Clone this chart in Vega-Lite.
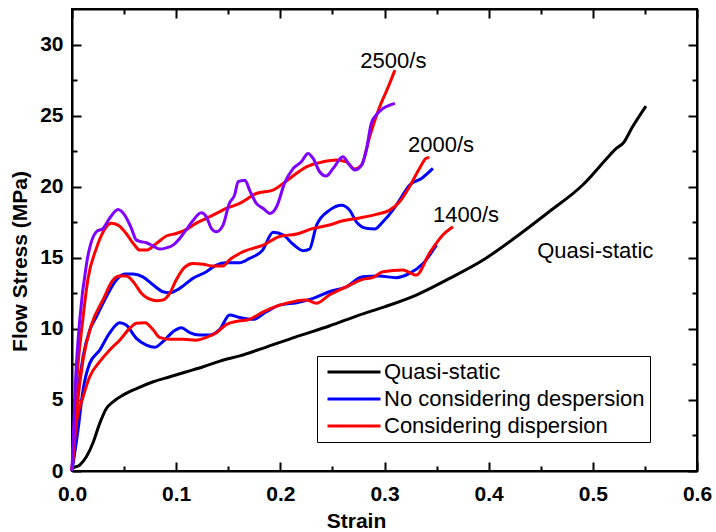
{
  "$schema": "https://vega.github.io/schema/vega-lite/v6.json",
  "width": 625,
  "height": 462,
  "autosize": "none",
  "padding": {"left": 72, "top": 9, "right": 19, "bottom": 61},
  "background": "white",
  "config": {
    "view": {"stroke": "black", "strokeWidth": 2},
    "axis": {
      "grid": false,
      "domainColor": "black",
      "domainWidth": 2,
      "tickColor": "black",
      "tickWidth": 2,
      "labelFont": "Liberation Sans",
      "labelFontSize": 21,
      "labelFontWeight": "bold",
      "labelColor": "black",
      "labelFlush": false,
      "labelOverlap": false,
      "titleFont": "Liberation Sans",
      "titleFontSize": 21,
      "titleFontWeight": "bold",
      "titleColor": "black"
    }
  },
  "datasets": {
    "curves": [
      {"curve":"QS","type":"Quasi-static","strain":0,"stress":0},
      {"curve":"QS","type":"Quasi-static","strain":0.001,"stress":0.19},
      {"curve":"QS","type":"Quasi-static","strain":0.0074,"stress":0.42},
      {"curve":"QS","type":"Quasi-static","strain":0.0138,"stress":1.0},
      {"curve":"QS","type":"Quasi-static","strain":0.02,"stress":1.95},
      {"curve":"QS","type":"Quasi-static","strain":0.0266,"stress":3.35},
      {"curve":"QS","type":"Quasi-static","strain":0.033,"stress":4.4},
      {"curve":"QS","type":"Quasi-static","strain":0.0394,"stress":4.87},
      {"curve":"QS","type":"Quasi-static","strain":0.049,"stress":5.34},
      {"curve":"QS","type":"Quasi-static","strain":0.062,"stress":5.8},
      {"curve":"QS","type":"Quasi-static","strain":0.078,"stress":6.28},
      {"curve":"QS","type":"Quasi-static","strain":0.094,"stress":6.63},
      {"curve":"QS","type":"Quasi-static","strain":0.11,"stress":6.98},
      {"curve":"QS","type":"Quasi-static","strain":0.126,"stress":7.33},
      {"curve":"QS","type":"Quasi-static","strain":0.142,"stress":7.73},
      {"curve":"QS","type":"Quasi-static","strain":0.161,"stress":8.1},
      {"curve":"QS","type":"Quasi-static","strain":0.183,"stress":8.63},
      {"curve":"QS","type":"Quasi-static","strain":0.215,"stress":9.44},
      {"curve":"QS","type":"Quasi-static","strain":0.247,"stress":10.2},
      {"curve":"QS","type":"Quasi-static","strain":0.275,"stress":10.95},
      {"curve":"QS","type":"Quasi-static","strain":0.3,"stress":11.55},
      {"curve":"QS","type":"Quasi-static","strain":0.3305,"stress":12.38},
      {"curve":"QS","type":"Quasi-static","strain":0.3625,"stress":13.55},
      {"curve":"QS","type":"Quasi-static","strain":0.3947,"stress":14.84},
      {"curve":"QS","type":"Quasi-static","strain":0.4265,"stress":16.48},
      {"curve":"QS","type":"Quasi-static","strain":0.458,"stress":18.24},
      {"curve":"QS","type":"Quasi-static","strain":0.49,"stress":20.1},
      {"curve":"QS","type":"Quasi-static","strain":0.516,"stress":22.2},
      {"curve":"QS","type":"Quasi-static","strain":0.5225,"stress":22.7},
      {"curve":"QS","type":"Quasi-static","strain":0.529,"stress":23.05},
      {"curve":"QS","type":"Quasi-static","strain":0.538,"stress":24.2},
      {"curve":"QS","type":"Quasi-static","strain":0.551,"stress":25.67},

      {"curve":"1400 no","type":"No considering despersion","strain":0,"stress":0},
      {"curve":"1400 no","type":"No considering despersion","strain":0.0058,"stress":2.9},
      {"curve":"1400 no","type":"No considering despersion","strain":0.0106,"stress":5.7},
      {"curve":"1400 no","type":"No considering despersion","strain":0.017,"stress":7.57},
      {"curve":"1400 no","type":"No considering despersion","strain":0.0266,"stress":8.5},
      {"curve":"1400 no","type":"No considering despersion","strain":0.036,"stress":9.7},
      {"curve":"1400 no","type":"No considering despersion","strain":0.0458,"stress":10.43},
      {"curve":"1400 no","type":"No considering despersion","strain":0.052,"stress":10.27},
      {"curve":"1400 no","type":"No considering despersion","strain":0.0618,"stress":9.33},
      {"curve":"1400 no","type":"No considering despersion","strain":0.0714,"stress":8.86},
      {"curve":"1400 no","type":"No considering despersion","strain":0.0794,"stress":8.7},
      {"curve":"1400 no","type":"No considering despersion","strain":0.0873,"stress":9.1},
      {"curve":"1400 no","type":"No considering despersion","strain":0.097,"stress":9.8},
      {"curve":"1400 no","type":"No considering despersion","strain":0.105,"stress":10.08},
      {"curve":"1400 no","type":"No considering despersion","strain":0.113,"stress":9.73},
      {"curve":"1400 no","type":"No considering despersion","strain":0.1226,"stress":9.56},
      {"curve":"1400 no","type":"No considering despersion","strain":0.132,"stress":9.56},
      {"curve":"1400 no","type":"No considering despersion","strain":0.1418,"stress":9.96},
      {"curve":"1400 no","type":"No considering despersion","strain":0.1513,"stress":10.97},
      {"curve":"1400 no","type":"No considering despersion","strain":0.161,"stress":10.8},
      {"curve":"1400 no","type":"No considering despersion","strain":0.174,"stress":10.67},
      {"curve":"1400 no","type":"No considering despersion","strain":0.1865,"stress":11.2},
      {"curve":"1400 no","type":"No considering despersion","strain":0.1993,"stress":11.67},
      {"curve":"1400 no","type":"No considering despersion","strain":0.2157,"stress":11.84},
      {"curve":"1400 no","type":"No considering despersion","strain":0.2315,"stress":12.14},
      {"curve":"1400 no","type":"No considering despersion","strain":0.247,"stress":12.61},
      {"curve":"1400 no","type":"No considering despersion","strain":0.2634,"stress":12.96},
      {"curve":"1400 no","type":"No considering despersion","strain":0.279,"stress":13.66},
      {"curve":"1400 no","type":"No considering despersion","strain":0.295,"stress":13.71},
      {"curve":"1400 no","type":"No considering despersion","strain":0.311,"stress":13.6},
      {"curve":"1400 no","type":"No considering despersion","strain":0.324,"stress":13.9},
      {"curve":"1400 no","type":"No considering despersion","strain":0.337,"stress":14.6},
      {"curve":"1400 no","type":"No considering despersion","strain":0.35,"stress":15.9},

      {"curve":"1400 c","type":"Considering dispersion","strain":0,"stress":0},
      {"curve":"1400 c","type":"Considering dispersion","strain":0.0042,"stress":3.35},
      {"curve":"1400 c","type":"Considering dispersion","strain":0.0106,"stress":5.2},
      {"curve":"1400 c","type":"Considering dispersion","strain":0.017,"stress":6.63},
      {"curve":"1400 c","type":"Considering dispersion","strain":0.0266,"stress":7.69},
      {"curve":"1400 c","type":"Considering dispersion","strain":0.036,"stress":8.5},
      {"curve":"1400 c","type":"Considering dispersion","strain":0.0458,"stress":9.2},
      {"curve":"1400 c","type":"Considering dispersion","strain":0.0554,"stress":10.03},
      {"curve":"1400 c","type":"Considering dispersion","strain":0.0618,"stress":10.39},
      {"curve":"1400 c","type":"Considering dispersion","strain":0.07,"stress":10.43},
      {"curve":"1400 c","type":"Considering dispersion","strain":0.078,"stress":9.92},
      {"curve":"1400 c","type":"Considering dispersion","strain":0.084,"stress":9.4},
      {"curve":"1400 c","type":"Considering dispersion","strain":0.094,"stress":9.26},
      {"curve":"1400 c","type":"Considering dispersion","strain":0.1068,"stress":9.26},
      {"curve":"1400 c","type":"Considering dispersion","strain":0.119,"stress":9.2},
      {"curve":"1400 c","type":"Considering dispersion","strain":0.129,"stress":9.4},
      {"curve":"1400 c","type":"Considering dispersion","strain":0.1386,"stress":9.73},
      {"curve":"1400 c","type":"Considering dispersion","strain":0.148,"stress":10.3},
      {"curve":"1400 c","type":"Considering dispersion","strain":0.16,"stress":10.55},
      {"curve":"1400 c","type":"Considering dispersion","strain":0.1705,"stress":10.67},
      {"curve":"1400 c","type":"Considering dispersion","strain":0.1836,"stress":11.2},
      {"curve":"1400 c","type":"Considering dispersion","strain":0.1993,"stress":11.67},
      {"curve":"1400 c","type":"Considering dispersion","strain":0.215,"stress":11.95},
      {"curve":"1400 c","type":"Considering dispersion","strain":0.225,"stress":12.03},
      {"curve":"1400 c","type":"Considering dispersion","strain":0.2345,"stress":11.8},
      {"curve":"1400 c","type":"Considering dispersion","strain":0.247,"stress":12.38},
      {"curve":"1400 c","type":"Considering dispersion","strain":0.2634,"stress":12.96},
      {"curve":"1400 c","type":"Considering dispersion","strain":0.279,"stress":13.48},
      {"curve":"1400 c","type":"Considering dispersion","strain":0.289,"stress":13.62},
      {"curve":"1400 c","type":"Considering dispersion","strain":0.2985,"stress":14.02},
      {"curve":"1400 c","type":"Considering dispersion","strain":0.3177,"stress":14.14},
      {"curve":"1400 c","type":"Considering dispersion","strain":0.3257,"stress":13.9},
      {"curve":"1400 c","type":"Considering dispersion","strain":0.3305,"stress":13.78},
      {"curve":"1400 c","type":"Considering dispersion","strain":0.343,"stress":15.3},
      {"curve":"1400 c","type":"Considering dispersion","strain":0.356,"stress":16.6},
      {"curve":"1400 c","type":"Considering dispersion","strain":0.3657,"stress":17.18},

      {"curve":"2000 no","type":"No considering despersion","strain":0,"stress":0},
      {"curve":"2000 no","type":"No considering despersion","strain":0.005,"stress":5.0},
      {"curve":"2000 no","type":"No considering despersion","strain":0.0106,"stress":8.04},
      {"curve":"2000 no","type":"No considering despersion","strain":0.017,"stress":9.9},
      {"curve":"2000 no","type":"No considering despersion","strain":0.0234,"stress":10.85},
      {"curve":"2000 no","type":"No considering despersion","strain":0.033,"stress":12.26},
      {"curve":"2000 no","type":"No considering despersion","strain":0.0426,"stress":13.43},
      {"curve":"2000 no","type":"No considering despersion","strain":0.0506,"stress":13.85},
      {"curve":"2000 no","type":"No considering despersion","strain":0.0586,"stress":13.85},
      {"curve":"2000 no","type":"No considering despersion","strain":0.068,"stress":13.66},
      {"curve":"2000 no","type":"No considering despersion","strain":0.078,"stress":13.08},
      {"curve":"2000 no","type":"No considering despersion","strain":0.0873,"stress":12.61},
      {"curve":"2000 no","type":"No considering despersion","strain":0.0938,"stress":12.54},
      {"curve":"2000 no","type":"No considering despersion","strain":0.1034,"stress":12.85},
      {"curve":"2000 no","type":"No considering despersion","strain":0.116,"stress":13.55},
      {"curve":"2000 no","type":"No considering despersion","strain":0.129,"stress":14.02},
      {"curve":"2000 no","type":"No considering despersion","strain":0.1386,"stress":14.49},
      {"curve":"2000 no","type":"No considering despersion","strain":0.148,"stress":14.65},
      {"curve":"2000 no","type":"No considering despersion","strain":0.161,"stress":14.65},
      {"curve":"2000 no","type":"No considering despersion","strain":0.1705,"stress":14.96},
      {"curve":"2000 no","type":"No considering despersion","strain":0.183,"stress":15.54},
      {"curve":"2000 no","type":"No considering despersion","strain":0.193,"stress":16.8},
      {"curve":"2000 no","type":"No considering despersion","strain":0.203,"stress":16.6},
      {"curve":"2000 no","type":"No considering despersion","strain":0.2123,"stress":15.95},
      {"curve":"2000 no","type":"No considering despersion","strain":0.222,"stress":15.5},
      {"curve":"2000 no","type":"No considering despersion","strain":0.228,"stress":15.6},
      {"curve":"2000 no","type":"No considering despersion","strain":0.2348,"stress":17.3},
      {"curve":"2000 no","type":"No considering despersion","strain":0.2473,"stress":18.35},
      {"curve":"2000 no","type":"No considering despersion","strain":0.2587,"stress":18.7},
      {"curve":"2000 no","type":"No considering despersion","strain":0.2665,"stress":18.35},
      {"curve":"2000 no","type":"No considering despersion","strain":0.273,"stress":17.53},
      {"curve":"2000 no","type":"No considering despersion","strain":0.2825,"stress":17.07},
      {"curve":"2000 no","type":"No considering despersion","strain":0.2905,"stress":17.02},
      {"curve":"2000 no","type":"No considering despersion","strain":0.2985,"stress":17.53},
      {"curve":"2000 no","type":"No considering despersion","strain":0.308,"stress":18.35},
      {"curve":"2000 no","type":"No considering despersion","strain":0.3145,"stress":19.06},
      {"curve":"2000 no","type":"No considering despersion","strain":0.324,"stress":20.1},
      {"curve":"2000 no","type":"No considering despersion","strain":0.3355,"stress":20.58},
      {"curve":"2000 no","type":"No considering despersion","strain":0.3465,"stress":21.29},

      {"curve":"2000 c","type":"Considering dispersion","strain":0,"stress":0},
      {"curve":"2000 c","type":"Considering dispersion","strain":0.005,"stress":4.6},
      {"curve":"2000 c","type":"Considering dispersion","strain":0.0106,"stress":7.8},
      {"curve":"2000 c","type":"Considering dispersion","strain":0.0186,"stress":10.27},
      {"curve":"2000 c","type":"Considering dispersion","strain":0.0297,"stress":12.03},
      {"curve":"2000 c","type":"Considering dispersion","strain":0.0394,"stress":13.43},
      {"curve":"2000 c","type":"Considering dispersion","strain":0.0458,"stress":13.71},
      {"curve":"2000 c","type":"Considering dispersion","strain":0.052,"stress":13.71},
      {"curve":"2000 c","type":"Considering dispersion","strain":0.06,"stress":13.2},
      {"curve":"2000 c","type":"Considering dispersion","strain":0.0666,"stress":12.5},
      {"curve":"2000 c","type":"Considering dispersion","strain":0.073,"stress":12.14},
      {"curve":"2000 c","type":"Considering dispersion","strain":0.081,"stress":11.98},
      {"curve":"2000 c","type":"Considering dispersion","strain":0.0873,"stress":12.03},
      {"curve":"2000 c","type":"Considering dispersion","strain":0.0938,"stress":12.5},
      {"curve":"2000 c","type":"Considering dispersion","strain":0.1,"stress":13.43},
      {"curve":"2000 c","type":"Considering dispersion","strain":0.108,"stress":14.32},
      {"curve":"2000 c","type":"Considering dispersion","strain":0.116,"stress":14.6},
      {"curve":"2000 c","type":"Considering dispersion","strain":0.126,"stress":14.54},
      {"curve":"2000 c","type":"Considering dispersion","strain":0.1353,"stress":14.42},
      {"curve":"2000 c","type":"Considering dispersion","strain":0.145,"stress":14.42},
      {"curve":"2000 c","type":"Considering dispersion","strain":0.151,"stress":14.84},
      {"curve":"2000 c","type":"Considering dispersion","strain":0.164,"stress":15.42},
      {"curve":"2000 c","type":"Considering dispersion","strain":0.1836,"stress":15.89},
      {"curve":"2000 c","type":"Considering dispersion","strain":0.1993,"stress":16.5},
      {"curve":"2000 c","type":"Considering dispersion","strain":0.2157,"stress":16.67},
      {"curve":"2000 c","type":"Considering dispersion","strain":0.2315,"stress":17.07},
      {"curve":"2000 c","type":"Considering dispersion","strain":0.247,"stress":17.3},
      {"curve":"2000 c","type":"Considering dispersion","strain":0.26,"stress":17.6},
      {"curve":"2000 c","type":"Considering dispersion","strain":0.276,"stress":17.8},
      {"curve":"2000 c","type":"Considering dispersion","strain":0.292,"stress":18.05},
      {"curve":"2000 c","type":"Considering dispersion","strain":0.305,"stress":18.35},
      {"curve":"2000 c","type":"Considering dispersion","strain":0.3145,"stress":18.94},
      {"curve":"2000 c","type":"Considering dispersion","strain":0.324,"stress":20.0},
      {"curve":"2000 c","type":"Considering dispersion","strain":0.3337,"stress":21.3},
      {"curve":"2000 c","type":"Considering dispersion","strain":0.34,"stress":22.0},
      {"curve":"2000 c","type":"Considering dispersion","strain":0.343,"stress":22.06},

      {"curve":"2500 c","type":"Considering dispersion","strain":0,"stress":0},
      {"curve":"2500 c","type":"Considering dispersion","strain":0.0042,"stress":6.0},
      {"curve":"2500 c","type":"Considering dispersion","strain":0.0106,"stress":10.8},
      {"curve":"2500 c","type":"Considering dispersion","strain":0.0153,"stress":13.5},
      {"curve":"2500 c","type":"Considering dispersion","strain":0.0234,"stress":15.66},
      {"curve":"2500 c","type":"Considering dispersion","strain":0.03,"stress":16.83},
      {"curve":"2500 c","type":"Considering dispersion","strain":0.0378,"stress":17.42},
      {"curve":"2500 c","type":"Considering dispersion","strain":0.0442,"stress":17.3},
      {"curve":"2500 c","type":"Considering dispersion","strain":0.052,"stress":16.71},
      {"curve":"2500 c","type":"Considering dispersion","strain":0.06,"stress":15.89},
      {"curve":"2500 c","type":"Considering dispersion","strain":0.065,"stress":15.54},
      {"curve":"2500 c","type":"Considering dispersion","strain":0.0714,"stress":15.54},
      {"curve":"2500 c","type":"Considering dispersion","strain":0.081,"stress":16.01},
      {"curve":"2500 c","type":"Considering dispersion","strain":0.0906,"stress":16.53},
      {"curve":"2500 c","type":"Considering dispersion","strain":0.1,"stress":16.71},
      {"curve":"2500 c","type":"Considering dispersion","strain":0.11,"stress":17.0},
      {"curve":"2500 c","type":"Considering dispersion","strain":0.119,"stress":17.42},
      {"curve":"2500 c","type":"Considering dispersion","strain":0.129,"stress":17.77},
      {"curve":"2500 c","type":"Considering dispersion","strain":0.1386,"stress":18.12},
      {"curve":"2500 c","type":"Considering dispersion","strain":0.148,"stress":18.47},
      {"curve":"2500 c","type":"Considering dispersion","strain":0.161,"stress":18.82},
      {"curve":"2500 c","type":"Considering dispersion","strain":0.177,"stress":19.52},
      {"curve":"2500 c","type":"Considering dispersion","strain":0.193,"stress":19.76},
      {"curve":"2500 c","type":"Considering dispersion","strain":0.209,"stress":20.58},
      {"curve":"2500 c","type":"Considering dispersion","strain":0.225,"stress":21.4},
      {"curve":"2500 c","type":"Considering dispersion","strain":0.241,"stress":21.75},
      {"curve":"2500 c","type":"Considering dispersion","strain":0.2537,"stress":21.87},
      {"curve":"2500 c","type":"Considering dispersion","strain":0.2634,"stress":21.75},
      {"curve":"2500 c","type":"Considering dispersion","strain":0.2713,"stress":21.24},
      {"curve":"2500 c","type":"Considering dispersion","strain":0.278,"stress":21.52},
      {"curve":"2500 c","type":"Considering dispersion","strain":0.2857,"stress":23.5},
      {"curve":"2500 c","type":"Considering dispersion","strain":0.2953,"stress":25.6},
      {"curve":"2500 c","type":"Considering dispersion","strain":0.3035,"stress":27.0},
      {"curve":"2500 c","type":"Considering dispersion","strain":0.31,"stress":28.2},

      {"curve":"2500 no","type":"No considering despersion","strain":0,"stress":0},
      {"curve":"2500 no","type":"No considering despersion","strain":0.0035,"stress":6.5},
      {"curve":"2500 no","type":"No considering despersion","strain":0.0074,"stress":10.62},
      {"curve":"2500 no","type":"No considering despersion","strain":0.014,"stress":14.6},
      {"curve":"2500 no","type":"No considering despersion","strain":0.0234,"stress":16.83},
      {"curve":"2500 no","type":"No considering despersion","strain":0.03,"stress":17.07},
      {"curve":"2500 no","type":"No considering despersion","strain":0.036,"stress":17.77},
      {"curve":"2500 no","type":"No considering despersion","strain":0.0442,"stress":18.4},
      {"curve":"2500 no","type":"No considering despersion","strain":0.0506,"stress":18.0},
      {"curve":"2500 no","type":"No considering despersion","strain":0.057,"stress":17.07},
      {"curve":"2500 no","type":"No considering despersion","strain":0.0618,"stress":16.24},
      {"curve":"2500 no","type":"No considering despersion","strain":0.0666,"stress":16.13},
      {"curve":"2500 no","type":"No considering despersion","strain":0.0714,"stress":16.06},
      {"curve":"2500 no","type":"No considering despersion","strain":0.078,"stress":15.82},
      {"curve":"2500 no","type":"No considering despersion","strain":0.0842,"stress":15.61},
      {"curve":"2500 no","type":"No considering despersion","strain":0.0906,"stress":15.7},
      {"curve":"2500 no","type":"No considering despersion","strain":0.097,"stress":15.89},
      {"curve":"2500 no","type":"No considering despersion","strain":0.1034,"stress":16.36},
      {"curve":"2500 no","type":"No considering despersion","strain":0.11,"stress":17.0},
      {"curve":"2500 no","type":"No considering despersion","strain":0.116,"stress":17.6},
      {"curve":"2500 no","type":"No considering despersion","strain":0.124,"stress":18.16},
      {"curve":"2500 no","type":"No considering despersion","strain":0.129,"stress":17.88},
      {"curve":"2500 no","type":"No considering despersion","strain":0.1338,"stress":17.07},
      {"curve":"2500 no","type":"No considering despersion","strain":0.1386,"stress":16.83},
      {"curve":"2500 no","type":"No considering despersion","strain":0.145,"stress":17.3},
      {"curve":"2500 no","type":"No considering despersion","strain":0.151,"stress":18.82},
      {"curve":"2500 no","type":"No considering despersion","strain":0.156,"stress":19.4},
      {"curve":"2500 no","type":"No considering despersion","strain":0.1596,"stress":20.35},
      {"curve":"2500 no","type":"No considering despersion","strain":0.166,"stress":20.46},
      {"curve":"2500 no","type":"No considering despersion","strain":0.1705,"stress":19.76},
      {"curve":"2500 no","type":"No considering despersion","strain":0.177,"stress":18.82},
      {"curve":"2500 no","type":"No considering despersion","strain":0.1836,"stress":18.47},
      {"curve":"2500 no","type":"No considering despersion","strain":0.19,"stress":18.12},
      {"curve":"2500 no","type":"No considering despersion","strain":0.1964,"stress":18.59},
      {"curve":"2500 no","type":"No considering despersion","strain":0.204,"stress":20.23},
      {"curve":"2500 no","type":"No considering despersion","strain":0.2124,"stress":21.29},
      {"curve":"2500 no","type":"No considering despersion","strain":0.2202,"stress":21.75},
      {"curve":"2500 no","type":"No considering despersion","strain":0.2266,"stress":22.34},
      {"curve":"2500 no","type":"No considering despersion","strain":0.2315,"stress":21.99},
      {"curve":"2500 no","type":"No considering despersion","strain":0.2377,"stress":21.05},
      {"curve":"2500 no","type":"No considering despersion","strain":0.244,"stress":20.75},
      {"curve":"2500 no","type":"No considering despersion","strain":0.2508,"stress":21.29},
      {"curve":"2500 no","type":"No considering despersion","strain":0.26,"stress":22.1},
      {"curve":"2500 no","type":"No considering despersion","strain":0.2665,"stress":21.52},
      {"curve":"2500 no","type":"No considering despersion","strain":0.2713,"stress":21.17},
      {"curve":"2500 no","type":"No considering despersion","strain":0.278,"stress":21.52},
      {"curve":"2500 no","type":"No considering despersion","strain":0.2825,"stress":22.57},
      {"curve":"2500 no","type":"No considering despersion","strain":0.2873,"stress":24.45},
      {"curve":"2500 no","type":"No considering despersion","strain":0.292,"stress":25.04},
      {"curve":"2500 no","type":"No considering despersion","strain":0.2985,"stress":25.5},
      {"curve":"2500 no","type":"No considering despersion","strain":0.305,"stress":25.74},
      {"curve":"2500 no","type":"No considering despersion","strain":0.31,"stress":25.86}
    ],
    "labels": [
      {"label":"2500/s","strain":0.2768,"stress":28.32},
      {"label":"2000/s","strain":0.3225,"stress":22.45},
      {"label":"1400/s","strain":0.3465,"stress":17.53},
      {"label":"Quasi-static","strain":0.4466,"stress":15.0}
    ]
  },
  "resolve": {"axis": {"x": "independent", "y": "independent"}},
  "layer": [
    {
      "data": {"name": "curves"},
      "transform": [{"filter": "datum.curve != '2500 no'"}],
      "mark": {"type": "line", "strokeWidth": 3, "interpolate": "monotone"},
      "encoding": {
        "x": {"field": "strain", "type": "quantitative",
          "scale": {"domain": [0, 0.6], "nice": false, "zero": false},
          "axis": {"orient": "bottom",
            "values": [0,0.05,0.1,0.15,0.2,0.25,0.3,0.35,0.4,0.45,0.5,0.55,0.6],
            "labelExpr": "round(datum.value*20)%2==0 ? format(datum.value,'.1f') : ''",
            "tickSize": {"condition": {"test": "round(datum.value*20)%2==0", "value": -9}, "value": -5},
            "labelPadding": 21,
            "title": "Strain", "titleX": 284, "titleY": 56, "titleBaseline": "alphabetic", "titleAlign": "center"}},
        "y": {"field": "stress", "type": "quantitative",
          "scale": {"domain": [0, 32.5], "nice": false, "zero": false},
          "axis": {"orient": "left",
            "values": [0,2.5,5,7.5,10,12.5,15,17.5,20,22.5,25,27.5,30],
            "labelExpr": "datum.value%5==0 ? format(datum.value,'d') : ''",
            "tickSize": {"condition": {"test": "datum.value%5==0", "value": -9}, "value": -5},
            "labelPadding": 18,
            "title": "Flow Stress (MPa)", "titleX": -46, "titleY": 252, "titleAngle": -90, "titleBaseline": "alphabetic", "titleAlign": "center"}},
        "color": {"field": "type", "type": "nominal",
          "scale": {"domain": ["Quasi-static", "No considering despersion", "Considering dispersion"], "range": ["#000000", "#0000FF", "#FF0000"]},
          "legend": {"orient": "none", "legendX": 245, "legendY": 347, "title": null,
            "strokeColor": "black", "fillColor": "white", "padding": 5,
            "symbolType": "M-3,0H3", "symbolSize": 312, "symbolStrokeWidth": 3, "symbolOffset": 21,
            "labelFont": "Liberation Sans", "labelFontSize": 22, "labelColor": "black",
            "labelFontWeight": "normal", "labelOffset": 19, "labelLimit": 0, "rowPadding": 5}},
        "detail": {"field": "curve", "type": "nominal"},
        "order": {"field": "strain", "type": "quantitative"}
      }
    },
    {
      "data": {"name": "curves"},
      "transform": [{"filter": "datum.curve == '2500 no'"}],
      "mark": {"type": "line", "strokeWidth": 3, "interpolate": "monotone", "color": "#8000FF"},
      "encoding": {
        "x": {"field": "strain", "type": "quantitative",
          "scale": {"domain": [0, 0.6], "nice": false, "zero": false},
          "axis": {"orient": "top", "labels": false, "title": null,
            "values": [0,0.05,0.1,0.15,0.2,0.25,0.3,0.35,0.4,0.45,0.5,0.55,0.6],
            "tickSize": {"condition": {"test": "round(datum.value*20)%2==0", "value": -9}, "value": -5}}},
        "y": {"field": "stress", "type": "quantitative",
          "scale": {"domain": [0, 32.5], "nice": false, "zero": false},
          "axis": {"orient": "right", "labels": false, "title": null,
            "values": [0,2.5,5,7.5,10,12.5,15,17.5,20,22.5,25,27.5,30],
            "tickSize": {"condition": {"test": "datum.value%5==0", "value": -9}, "value": -5}}},
        "order": {"field": "strain", "type": "quantitative"}
      }
    },
    {
      "data": {"name": "labels"},
      "mark": {"type": "text", "align": "left", "baseline": "alphabetic", "font": "Liberation Sans", "fontSize": 22, "color": "black"},
      "encoding": {
        "x": {"field": "strain", "type": "quantitative", "scale": {"domain": [0, 0.6], "nice": false, "zero": false}, "axis": null},
        "y": {"field": "stress", "type": "quantitative", "scale": {"domain": [0, 32.5], "nice": false, "zero": false}, "axis": null},
        "text": {"field": "label"}
      }
    }
  ]
}
